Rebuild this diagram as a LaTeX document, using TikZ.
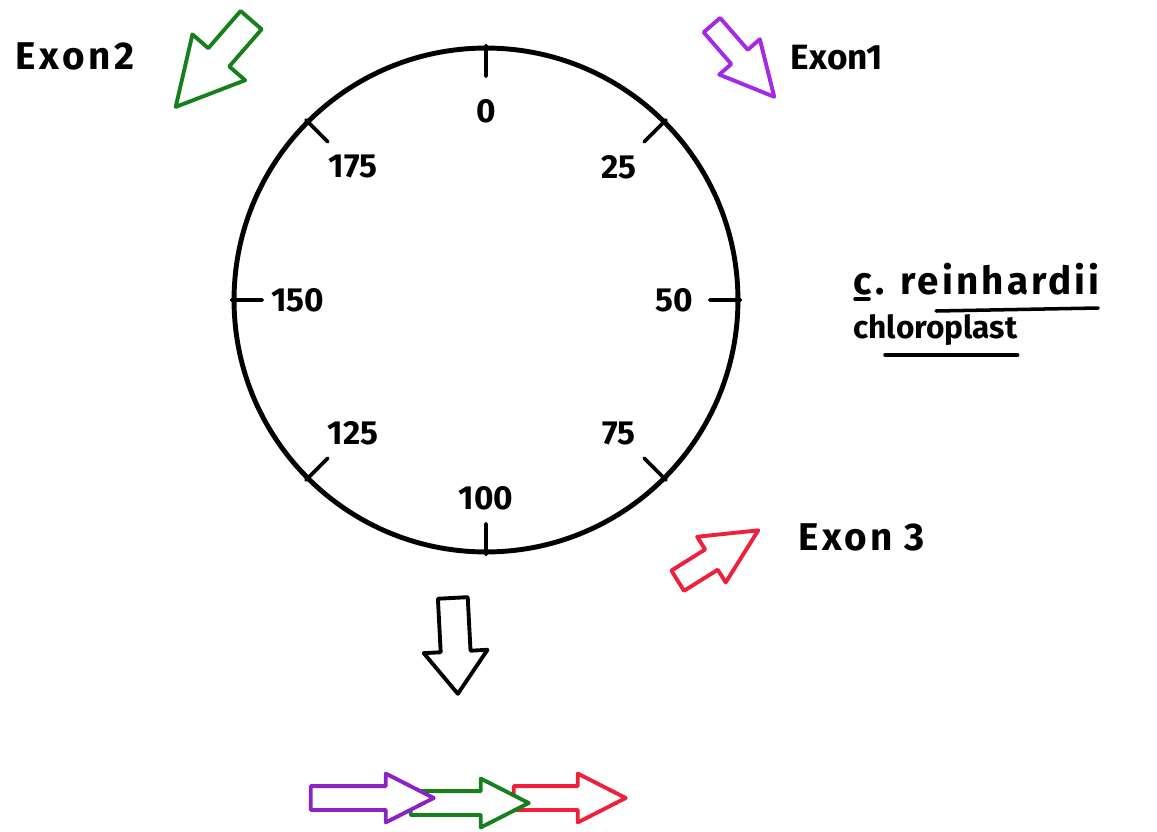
\documentclass[tikz,border=0pt]{standalone}
\usepackage{fontspec}
\setmainfont{Fira Sans}
\usetikzlibrary{shapes.arrows, positioning, calc}
\definecolor{exongreen}{RGB}{22,128,28}
\definecolor{exonpurple}{RGB}{165,40,230}
\definecolor{exonred}{RGB}{238,32,60}

\begin{document}
\begin{tikzpicture}[
        x=0.02cm, y=-0.02cm,
        ring/.style={circle, draw=black, line width=2.8pt, minimum size=10.08cm, inner sep=0pt},
        tickline/.style={line width=2.2pt, line cap=round},
        ticklabel/.style={font=\fontsize{19}{22}\selectfont\bfseries, inner sep=0pt},
        exonlabel/.style={font=\fontsize{22}{26}\selectfont\bfseries\addfontfeature{LetterSpace=8}, inner sep=0pt},
        blockarrow/.style={single arrow, draw, line width=2.2pt, line join=round, inner xsep=0pt, fill=white, anchor=tip},
        uline/.style={line width=2pt, line cap=round}
    ]
        \useasboundingbox (0,0) rectangle (1157,832);

        % Chloroplast genome map
        \node (genome) [ring] at (486,300) {};
        \foreach \ang/\pos/\txt in {90/0.74/0, 45/0.74/25, 0/0.74/50, 315/0.74/75, 270/0.78/100, 225/0.74/125, 180/0.74/150, 135/0.74/175} {
            \draw [tickline] (genome.\ang) -- ($(genome.center)!0.88!(genome.\ang)$);
            \node (pos\txt) [ticklabel] at ($(genome.center)!\pos!(genome.\ang)$) {\txt};
        }

        % Exons and their directions
        \node (exontwo) [blockarrow, draw=exongreen, minimum height=2.3cm, inner ysep=0.24cm, single arrow head extend=0.42cm, single arrow tip angle=56, rotate=229] at (173,110) {};
        \node (exontwolab) [exonlabel, font=\fontsize{22}{26}\selectfont\bfseries\addfontfeature{LetterSpace=10}] at (75,56) {Exon2};
        \node (exonone) [blockarrow, draw=exonpurple, minimum height=1.9cm, inner ysep=0.18cm, single arrow head extend=0.32cm, single arrow tip angle=54, rotate=-49] at (777,100) {};
        \node (exononelab) [exonlabel, font=\fontsize{20}{24}\selectfont\bfseries] at (837,58) {Exon1};
        \node (exonthree) [blockarrow, draw=exonred, minimum height=1.9cm, inner ysep=0.2cm, single arrow head extend=0.3cm, single arrow tip angle=52, rotate=32] at (762,528) {};
        \node (exonthreelab) [exonlabel] at (862,537) {Exon 3};

        % Organism
        \node (genus) [exonlabel, anchor=base west] at (853,294) {c.};
        \node (species) [exonlabel, anchor=base west] at (900,294) {reinhardii};
        \node (organelle) [exonlabel, font=\fontsize{18}{21}\selectfont\bfseries, anchor=base west] at (853,338) {chloroplast};
        \draw [uline] ($(genus.base west)+(2,5)$) -- ($(genus.base west)+(16,5)$);
        \draw [uline] ($(species.base west)+(36,17)$) -- ($(species.base east)+(-2,14)$);
        \draw [uline] ($(organelle.base west)+(32,17)$) -- ($(organelle.base east)+(0,17)$);

        % Splicing
        \node (splice) [blockarrow, draw=black, minimum height=1.92cm, inner ysep=0.26cm, single arrow head extend=0.34cm, single arrow tip angle=74, rotate=-87] at (458,697) {};
        \node (matureexthree) [blockarrow, draw=exonred, minimum height=2.24cm, inner ysep=0.2cm, single arrow head extend=0.25cm, single arrow tip angle=54] at (630,798) {};
        \node (matureextwo) [blockarrow, draw=exongreen, minimum height=2.36cm, inner ysep=0.2cm, single arrow head extend=0.25cm, single arrow tip angle=54] at (533,803) {};
        \node (matureexone) [blockarrow, draw=exonpurple!85!black, minimum height=2.46cm, inner ysep=0.2cm, single arrow head extend=0.25cm, single arrow tip angle=54] at (438,798) {};

    \end{tikzpicture}
\end{document}
